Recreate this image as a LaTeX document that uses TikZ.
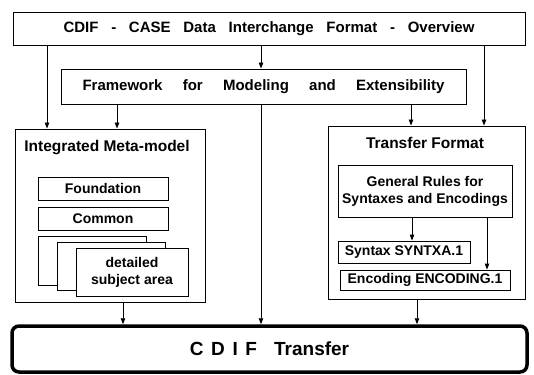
\documentclass[tikz,border=0pt]{standalone}
\usepackage{fontspec}
\setmainfont{Liberation Sans}
\usetikzlibrary{arrows.meta}
\begin{document}
\begin{tikzpicture}[x=1pt,y=-1pt,
  box/.style={draw, line width=0.9pt, fill=white, inner sep=0pt, align=center,
    font=\bfseries\fontsize{14}{17}\selectfont},
  lbl/.style={inner sep=0pt, font=\bfseries\fontsize{15.5}{18}\selectfont},
  arr/.style={line width=0.9pt, -{Triangle[length=6pt,width=4.5pt]}},
  bigbox/.style={draw, line width=3.5pt, rounded corners=7pt, inner sep=0pt,
    font=\bfseries\fontsize{19}{22}\selectfont}
]
\useasboundingbox (0,0) rectangle (534,374);
% columns
\coordinate (c47) at (47,0);
\coordinate (c117) at (117,0);
\coordinate (c123) at (123,0);
\coordinate (c261) at (261,0);
\coordinate (c411) at (411,0);
\coordinate (c412) at (412,0);
\coordinate (c417) at (417,0);
\coordinate (c484) at (484,0);
\coordinate (c487) at (487,0);

\node[box, minimum width=512pt, minimum height=33pt,
  font={\bfseries\fontsize{15}{18}\selectfont\spaceskip=0.85em\relax}]
  (top) at (269,28.5) {CDIF - CASE Data Interchange Format - Overview};
\node[box, minimum width=405pt, minimum height=35pt,
  font={\bfseries\fontsize{15}{18}\selectfont\spaceskip=1.35em\relax}]
  (frame) at (263.5,86.5) {Framework for Modeling and Extensibility};

% Integrated meta-model
\node[box, minimum width=190pt, minimum height=173pt] (meta) at (110,215.5) {};
\node[lbl] (metatitle) at (107,148) {Integrated Meta-model};
\node[box, minimum width=130pt, minimum height=23pt] (found) at (103,188.5) {Foundation};
\node[box, minimum width=130pt, minimum height=23pt] (common) at (103,218.5) {Common};
\node[box, minimum width=108pt, minimum height=49pt] (s1) at (92,260.5) {};
\node[box, minimum width=108pt, minimum height=48pt] (s2) at (111,266) {};
\node[box, minimum width=112pt, minimum height=48pt] (s3) at (132,272) {detailed\\subject area};

% Transfer format
\node[box, minimum width=197pt, minimum height=173pt] (tf) at (426.5,212.5) {};
\node[lbl] (tftitle) at (425,143) {Transfer Format};
\node[box, minimum width=174pt, minimum height=52pt] (gen) at (425,191) {General Rules for\\Syntaxes and Encodings};
\node[box, minimum width=132pt, minimum height=22pt] (syn) at (404,252) {Syntax SYNTXA.1};
\node[box, minimum width=170pt, minimum height=20pt] (enc) at (425,280) {Encoding ENCODING.1};

% CDIF transfer
\node[bigbox, minimum width=515pt, minimum height=46pt] (cdif) at (269.5,349)
  {C\hspace{0.4em}D\hspace{0.4em}I\hspace{0.4em}F\hspace{0.9em}Transfer};

% arrows
\draw[arr] (top.south -| c47) -- (meta.north -| c47);
\draw[arr] (top.south -| c261) -- (frame.north -| c261);
\draw[arr] (top.south -| c484) -- (tf.north -| c484);
\draw[arr] (frame.south -| c117) -- (meta.north -| c117);
\draw[arr] (frame.south -| c411) -- (tf.north -| c411);
\draw[arr] (frame.south -| c261) -- (cdif.north -| c261);
\draw[arr] (meta.south -| c123) -- (cdif.north -| c123);
\draw[arr] (tf.south -| c417) -- (cdif.north -| c417);
\draw[arr] (gen.south -| c412) -- (syn.north -| c412);
\draw[arr] (gen.south -| c487) -- (enc.north -| c487);
\end{tikzpicture}
\end{document}
